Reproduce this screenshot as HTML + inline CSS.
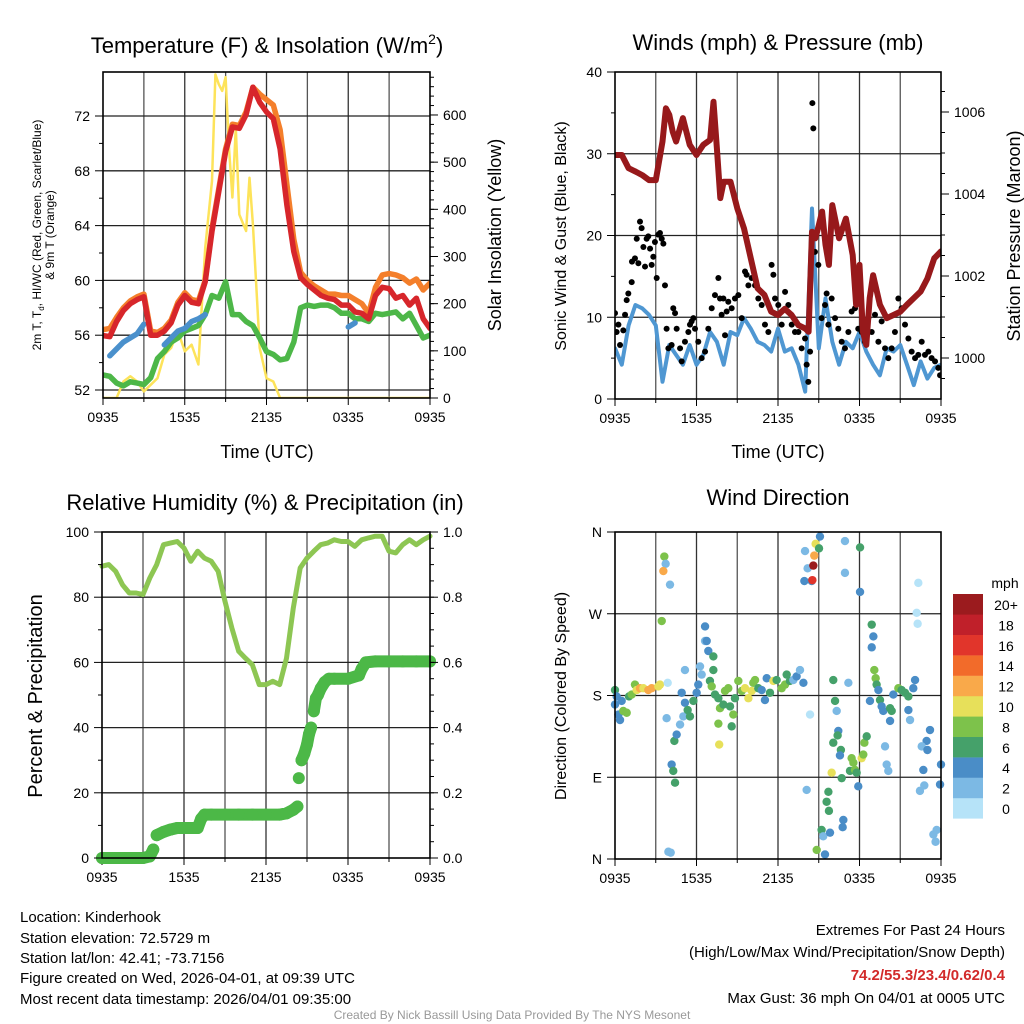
<!DOCTYPE html>
<html><head><meta charset="utf-8">
<style>
html,body{margin:0;padding:0;background:#fff;}
svg{display:block;font-family:"Liberation Sans",Arial,sans-serif;}
</style></head>
<body>
<svg id="chart" width="1024" height="1024" viewBox="0 0 1024 1024" xmlns="http://www.w3.org/2000/svg">
<rect x="0" y="0" width="1024" height="1024" fill="#fff"/>
<text x="267" y="53" font-size="22" text-anchor="middle">Temperature (F) &amp; Insolation (W/m<tspan font-size="14" dy="-9">2</tspan><tspan dy="9">)</tspan></text>
<text x="778" y="50" font-size="22" text-anchor="middle">Winds (mph) &amp; Pressure (mb)</text>
<text x="265" y="510" font-size="22" text-anchor="middle">Relative Humidity (%) &amp; Precipitation (in)</text>
<text x="778" y="505" font-size="22" text-anchor="middle">Wind Direction</text>
<text x="267" y="458" font-size="18" text-anchor="middle">Time (UTC)</text>
<text x="778" y="458" font-size="18" text-anchor="middle">Time (UTC)</text>
<text transform="translate(41,235) rotate(-90)" font-size="12" text-anchor="middle">2m T, T<tspan font-size="8" dy="3">d</tspan><tspan dy="-3">, HI/WC (Red, Green, Scarlet/Blue)</tspan></text>
<text transform="translate(54,235) rotate(-90)" font-size="12" text-anchor="middle">&amp; 9m T (Orange)</text>
<text transform="translate(501,235) rotate(-90)" font-size="18" text-anchor="middle">Solar Insolation (Yellow)</text>
<text transform="translate(566,236) rotate(-90)" font-size="16" text-anchor="middle">Sonic Wind &amp; Gust (Blue, Black)</text>
<text transform="translate(1020,236) rotate(-90)" font-size="18" text-anchor="middle">Station Pressure (Maroon)</text>
<text transform="translate(42,696) rotate(-90)" font-size="20" text-anchor="middle">Percent &amp; Precipitation</text>
<text transform="translate(566,696) rotate(-90)" font-size="16" text-anchor="middle">Direction (Colored By Speed)</text>
<g font-size="15">
<text x="20" y="922">Location: Kinderhook</text>
<text x="20" y="943">Station elevation: 72.5729 m</text>
<text x="20" y="963">Station lat/lon: 42.41; -73.7156</text>
<text x="20" y="983">Figure created on Wed, 2026-04-01, at 09:39 UTC</text>
<text x="20" y="1004">Most recent data timestamp: 2026/04/01 09:35:00</text>
</g>
<g font-size="15" text-anchor="end">
<text x="1005" y="935">Extremes For Past 24 Hours</text>
<text x="1005" y="957">(High/Low/Max Wind/Precipitation/Snow Depth)</text>
<text x="1005" y="980" fill="#d22a2a" font-weight="bold">74.2/55.3/23.4/0.62/0.4</text>
<text x="1005" y="1003">Max Gust: 36 mph On 04/01 at 0005 UTC</text>
</g>
<text x="512" y="1019" font-size="12" fill="#999" text-anchor="middle">Created By Nick Bassill Using Data Provided By The NYS Mesonet</text>
<g id="plots"></g>
</svg>
<script>
const xTickLabels = ["0935","1535","2135","0335","0935"];
const temp2m = [55.97,55.9,57.0,57.8,58.3,58.6,58.8,56.0,56.0,56.3,56.9,58.2,58.9,58.4,58.3,59.9,63.6,66.5,69.4,71.2,71.1,72.1,74.1,73.0,72.3,71.8,69.6,65.5,62.1,60.2,59.7,59.3,58.9,58.7,58.6,58.2,58.2,57.7,57.6,57.2,58.9,59.5,59.4,58.7,58.9,58.2,58.7,57.2,56.5];
const temp9m = [56.4,56.5,57.3,58.0,58.5,58.8,59.0,56.3,56.2,56.5,57.1,58.4,59.1,58.6,58.5,60.0,63.8,66.7,69.6,71.4,71.3,72.3,74.1,73.6,73.2,72.8,71.0,67.0,63.0,60.6,60.0,59.6,59.3,59.0,59.0,58.9,58.9,58.6,58.3,57.6,59.5,60.4,60.5,60.4,60.2,59.8,60.1,59.3,59.8];
const dewpoint = [53.1,53.0,52.5,52.3,52.6,52.5,52.4,52.9,54.3,54.8,55.5,55.8,56.3,56.5,56.7,57.5,58.9,58.7,59.9,57.5,57.5,57.0,56.7,55.8,54.8,54.6,54.2,54.3,55.5,58.0,58.2,58.1,58.2,58.2,58.0,57.6,57.6,57.2,57.2,57.0,57.6,57.5,57.6,57.7,57.2,57.6,56.7,55.8,56.0];
const heatIndex = [null,54.5,55.0,55.5,55.8,56.1,56.8,null,null,55.3,55.8,56.3,56.5,57.0,57.2,57.5,null,null,null,null,null,null,null,null,null,null,null,null,null,null,null,null,null,null,57.3,null,56.6,56.9,null,null,null,null,null,null,null,null,null,null,null];
const solarTimes = [0,1,1.5,2,2.5,3,3.5,4,4.5,5,5.5,6,6.5,7,7.5,8,8.25,8.5,8.75,9,9.25,9.5,9.75,10,10.5,10.75,11,11.5,12,12.5,13,24];
const solarVals = [0,0,35,46,35,14,28,42,92,106,142,99,113,71,318,460,686,665,651,680,530,425,573,389,354,467,368,106,42,35,0,0];
const windVals = [6.2,4.2,9.0,11.5,11.1,10.3,9.0,2.1,6.6,5.4,4.2,6.6,4.2,5.4,8.2,7.0,4.2,8.2,7.8,9.9,8.6,7.0,6.6,5.8,8.6,5.8,6.2,4.2,0.9,23.3,6.2,12.3,7.0,4.2,7.0,6.2,8.2,5.8,4.2,2.9,6.2,5.8,6.6,4.2,1.7,4.6,2.5,3.8,4.2];
const gustTimes = [0,0.12,0.25,0.37,0.61,0.74,0.86,0.98,1.23,1.25,1.47,1.6,1.72,1.84,1.96,2.09,2.21,2.33,2.45,2.58,2.7,2.82,2.94,3.07,3.19,3.31,3.44,3.56,3.68,3.8,3.93,4.17,4.29,4.42,4.54,4.79,4.91,5.15,5.4,5.52,5.64,5.77,5.89,6.13,6.38,6.63,6.87,7.12,7.36,7.61,7.73,7.85,7.98,8.1,8.22,8.34,8.59,8.83,9.08,9.33,9.57,9.69,9.82,10.06,10.31,10.55,10.8,11.04,11.29,11.53,11.66,11.78,12.02,12.27,12.52,12.76,13.01,13.25,13.5,13.74,13.99,14.11,14.23,14.36,14.53,14.6,14.72,14.97,15.21,15.46,15.58,15.71,15.95,16.2,16.44,16.69,16.93,17.18,17.42,17.67,17.91,18.16,18.4,18.65,18.9,19.14,19.39,19.63,19.88,20.12,20.37,20.61,20.86,21.1,21.35,21.6,21.84,22.09,22.33,22.58,22.82,23.07,23.31,23.56,23.8,23.93];
const gustVals = [10.5,8.2,9.1,6.6,8.4,10.3,12.1,12.9,14.3,16.8,17.2,19.6,16.6,21.7,20.9,18.6,16.2,19.6,19.9,18.4,16.4,17.4,19.2,14.8,20.1,20.3,19.6,19.0,13.9,8.6,6.2,6.6,11.1,10.5,8.6,6.2,4.6,7.0,8.2,9.1,9.5,9.9,8.6,7.0,5.0,5.8,8.6,11.1,12.7,14.8,12.3,10.3,12.3,7.8,10.7,11.9,11.1,12.3,12.7,9.9,15.6,15.2,13.9,14.8,13.9,12.3,11.5,9.1,8.2,16.4,15.2,12.3,11.5,9.1,13.1,11.5,9.1,8.2,8.2,6.2,7.4,4.2,2.1,5.8,36.2,33.1,18.0,16.4,9.9,11.5,12.9,9.1,12.3,9.9,8.6,7.0,6.2,8.2,10.7,11.1,8.6,8.2,7.0,9.9,8.2,10.3,7.0,9.5,6.2,5.0,6.2,8.2,12.3,11.1,9.1,7.4,5.8,5.0,5.4,7.0,5.4,5.8,5.0,4.6,3.8,2.9];
const presTimes = [0,0.5,1,1.5,2,2.5,3,3.5,3.75,4,4.25,4.5,5,5.5,6,6.5,7,7.25,7.5,7.75,8,8.5,9,9.5,10,10.5,11,11.5,12,12.5,13,13.5,14,14.25,14.5,14.75,15,15.25,15.5,15.75,16,16.5,17,17.5,17.75,18,18.25,18.5,18.75,19,19.5,20,20.5,21,21.5,22,22.5,23,23.5,24];
const presVals = [1004.95,1004.95,1004.63,1004.55,1004.46,1004.34,1004.34,1005.28,1006.09,1005.93,1005.52,1005.28,1005.85,1005.2,1004.95,1005.2,1005.32,1006.25,1005.11,1003.9,1004.3,1004.3,1003.65,1003.16,1002.43,1001.7,1001.54,1001.13,1001.05,1001.2,1001.05,1000.8,1000.72,1000.64,1003.08,1002.92,1003.24,1003.57,1002.76,1002.27,1003.73,1002.92,1003.4,1002.51,1001.3,1002.27,1000.64,1000.32,1001.46,1002.02,1001.3,1000.97,1001.05,1001.13,1001.3,1001.46,1001.62,1001.94,1002.43,1002.6];
const rhVals = [89.5,90,87.9,83.8,81.3,81.3,80.8,85.9,90,96.1,96.6,97.1,95.1,91,94.1,92,91,87.9,78.7,70.6,63.4,61.3,59.3,53.2,53.2,54.2,53.2,61.3,76.7,89,92,94.1,96.1,96.6,97.6,97.1,97.1,95.6,97.6,98.2,98.7,98.7,94.1,93.6,96.1,97.6,96.1,97.6,98.7];
const precipTimes = [0,0.5,1,1.5,2,2.5,3,3.5,3.75,4,4.5,5,5.5,6,6.5,7,7.25,7.5,8,9,10,11,12,13,13.5,14,14.3,14.4,14.6,14.8,15,15.15,15.3,15.5,15.65,15.8,16,16.3,16.6,17,18,18.8,19,19.3,20,21,22,23,24];
const precipVals = [0,0,0,0,0,0,0,0.005,0.026,0.07,0.08,0.087,0.092,0.092,0.092,0.092,0.12,0.133,0.133,0.133,0.133,0.133,0.133,0.133,0.137,0.148,0.158,0.245,0.30,0.32,0.348,0.38,0.40,0.45,0.49,0.50,0.52,0.54,0.55,0.55,0.55,0.56,0.58,0.60,0.603,0.603,0.603,0.603,0.603];
const dirTimes = [0,0.12,0,0.25,0.37,0.49,0.61,0.86,1.03,1.23,1.47,1.6,1.84,2.09,2.45,2.7,3.19,3.31,3.63,3.73,3.56,4.05,3.44,3.88,3.8,3.93,4.1,4.17,4.29,4.42,4.37,4.54,4.79,4.91,5.03,5.15,5.15,5.35,5.52,5.77,6.01,6.13,6.26,6.38,6.63,6.63,6.75,6.87,6.99,7.12,7.24,7.24,7.36,7.61,7.73,7.61,7.67,7.98,8.1,8.34,8.47,8.59,8.71,8.83,9.08,9.33,9.57,9.82,10.06,10.18,10.31,10.55,10.8,11.04,11.17,11.41,11.66,11.9,12.27,12.52,12.64,12.88,13.13,13.37,13.62,13.87,14.36,14.11,13.99,13.94,14.18,14.48,14.53,14.6,14.67,14.77,15.09,15.02,15.95,15.71,15.58,15.75,15.21,15.33,15.83,14.85,15.46,16.07,16.2,16.32,16.44,16.39,16.07,16.63,16.56,16.69,16.81,16.76,16.93,16.93,17.18,17.3,17.42,17.55,17.67,17.79,17.91,18.04,18.04,18.16,18.28,18.36,18.53,18.77,18.9,19.02,18.9,19.09,19.19,19.26,19.39,19.51,19.63,19.75,19.88,20,20.12,20.25,20.37,20.25,20.49,20.86,21.1,21.35,21.6,21.96,22.09,21.6,21.72,22.33,22.21,22.28,23.19,22.94,22.58,23.0,22.7,22.45,22.77,23.93,24,23.44,23.6,23.68];
const dirDeg = [186,179,170,159,153,174,163,161,179,181,192,186,188,188,186,188,190,192,333,325,317,302,262,194,155,8,7,104,97,84,130,137,148,183,157,172,208,164,157,174,183,192,212,203,256,240,240,229,196,190,223,208,181,177,166,149,126,170,185,188,168,146,159,177,196,185,188,177,185,194,197,188,186,175,199,183,196,197,188,192,203,196,197,201,208,194,159,76,339,306,320,306,307,323,334,347,355,342,95,74,63,53,32,25,29,10,5,197,174,163,141,136,128,120,114,89,43,35,350,315,194,97,111,106,98,95,80,343,294,111,115,128,135,174,258,245,233,208,199,192,186,175,168,163,124,104,97,166,163,152,181,188,186,183,179,188,197,164,153,304,271,259,142,130,124,120,98,75,81,82,104,27,19,32];
const dirSpeed = [7,5,5,5,5,5,8,8,7,9,9,11,13,11,13,13,11,11,9,3,13,3,9,1,3,3,3,5,7,7,7,5,3,5,3,5,3,7,7,7,5,5,3,3,5,3,5,5,7,9,7,7,7,7,9,9,11,7,9,9,7,7,9,7,9,9,11,11,11,9,9,7,5,5,5,7,11,7,9,9,7,7,3,5,3,5,1,3,3,5,3,5,17,20,13,11,5,7,11,7,7,7,7,3,5,9,5,7,7,3,5,7,7,7,5,7,5,5,3,3,3,7,9,9,9,7,5,7,5,11,9,9,7,5,7,5,5,9,9,7,5,7,5,5,3,3,3,7,7,5,5,9,7,7,7,5,5,5,3,1,1,1,5,5,3,5,5,3,3,5,5,3,3,3];
const speedBinLabels = ["0","2","4","6","8","10","12","14","16","18","20+"];
const speedColors = ["#b6e3f8","#7cb9e4","#4a8dc7","#45a16a","#7dc24b","#e7e05a","#f9a94a","#f26b2a","#e1352b","#c0202a","#9b1b1e"];
const tempTicks = [52,56,60,64,68,72];
const solarTicks = [0,100,200,300,400,500,600];
const windTicks = [0,10,20,30,40];
const presTicks = [1000,1002,1004,1006];
const rhTicks = [0,20,40,60,80,100];
const precipTicks = [0.0,0.2,0.4,0.6,0.8,1.0];
const dirTicks = [0,90,180,270,360];
const dirTickLabels = ["N","E","S","W","N"];

const NS = "http://www.w3.org/2000/svg";
const root = document.getElementById("plots");
function mk(tag, attrs, parent){
  const e = document.createElementNS(NS, tag);
  for (const k in attrs) e.setAttribute(k, attrs[k]);
  (parent || root).appendChild(e);
  return e;
}
function panel(x0,x1,y0,y1){ return {x0,x1,y0,y1, x:(t)=>x0+t/24*(x1-x0)}; }
const P1 = panel(103,430,72,398), P2 = panel(615,941,72,399), P3 = panel(102,430,532,858), P4 = panel(615,941,532,859);
const yTemp = v => 390 - (v-52)*13.7;
const ySolar = v => 398 - v*0.4717;
const yWind = v => 399 - v*8.175;
const yPres = v => 358 - (v-1000)*41;
const yRH = v => 858 - v*3.26;
const yPrecip = v => 858 - v*326;
const yDir = v => 859 - v/360*327;

function clip(id,P){
  const c = mk("clipPath",{id:id});
  
  
  const r = mk("rect",{x:P.x0,y:P.y0,width:P.x1-P.x0,height:P.y1-P.y0},c);
  
  
}
function frame(P, yTicksPos, name){
  const g = mk("g",{});
  
  
  for (let h=3; h<24; h+=3){
    const x = P.x(h);
    const l = mk("line",{x1:x,x2:x,y1:P.y0,y2:P.y1,stroke:(h%6===0?"#333":"#555"),"stroke-width":1.3},g);
    
    
  }
  yTicksPos.forEach(y=>{
    const l = mk("line",{x1:P.x0,x2:P.x1,y1:y,y2:y,stroke:"#222","stroke-width":1.3},g);
    
    
  });
  for (let h=0; h<=24; h+=3){
    const x = P.x(h);
    const l = mk("line",{x1:x,x2:x,y1:P.y1,y2:P.y1+(h%6===0?7:4),stroke:"#000","stroke-width":1},g);
    
    
  }
  xTickLabels.forEach((lab,i)=>{
    const t = mk("text",{x:P.x(i*6),y:P.y1+24,"font-size":14,"text-anchor":"middle"},g);
    t.textContent = lab;
    
    
  });
}
function border(P,name){
  const r = mk("rect",{x:P.x0,y:P.y0,width:P.x1-P.x0,height:P.y1-P.y0,fill:"none",stroke:"#000","stroke-width":1.6});
  
  
}
function leftAxis(P, ticks, labels, yf, minorVals, name){
  ticks.forEach((v,i)=>{
    const y = yf(v);
    const l = mk("line",{x1:P.x0-8,x2:P.x0,y1:y,y2:y,stroke:"#000","stroke-width":1});
    
    
    const t = mk("text",{x:P.x0-13,y:y+5,"font-size":14,"text-anchor":"end"});
    t.textContent = labels[i];
    
    
  });
  minorVals.forEach(v=>{
    const y = yf(v);
    const l = mk("line",{x1:P.x0-4,x2:P.x0,y1:y,y2:y,stroke:"#000","stroke-width":1});
    
    
  });
}
function rightAxis(P, ticks, labels, yf, minorVals, name){
  ticks.forEach((v,i)=>{
    const y = yf(v);
    const l = mk("line",{x1:P.x1,x2:P.x1+8,y1:y,y2:y,stroke:"#000","stroke-width":1});
    
    
    const t = mk("text",{x:P.x1+13,y:y+5,"font-size":14,"text-anchor":"start"});
    t.textContent = labels[i];
    
    
  });
  minorVals.forEach(v=>{
    const y = yf(v);
    const l = mk("line",{x1:P.x1,x2:P.x1+4,y1:y,y2:y,stroke:"#000","stroke-width":1});
    
    
  });
}
function range(a,b,s){ const r=[]; for(let v=a; v<=b+1e-9; v+=s) r.push(+v.toFixed(4)); return r; }
function pathFrom(times, vals, P, yf){
  let d = "", pen = false;
  vals.forEach((v,i)=>{
    if (v === null){ pen = false; return; }
    d += (pen ? "L" : "M") + P.x(times[i]).toFixed(1) + "," + yf(v).toFixed(1);
    pen = true;
  });
  return d;
}
const halfTimes = temp2m.map((_,i)=>i*0.5);

// Panel 1
clip("clip-p1",P1);
frame(P1, tempTicks.map(yTemp), "temperature");
const g1 = mk("g",{"clip-path":"url(#clip-p1)",fill:"none","stroke-linejoin":"round","stroke-linecap":"round"});


let p;
p = mk("path",{d:pathFrom(solarTimes,solarVals,P1,ySolar),stroke:"#fde35a","stroke-width":2.5},g1);


p = mk("path",{d:pathFrom(halfTimes,dewpoint,P1,yTemp),stroke:"#4db748","stroke-width":5.5},g1);


p = mk("path",{d:pathFrom(halfTimes,heatIndex,P1,yTemp),stroke:"#4a90cc","stroke-width":5.5},g1);


p = mk("path",{d:pathFrom(halfTimes,temp9m,P1,yTemp),stroke:"#f47f2b","stroke-width":5.5},g1);


p = mk("path",{d:pathFrom(halfTimes,temp2m,P1,yTemp),stroke:"#d7262b","stroke-width":5.5},g1);


border(P1,"temperature");
leftAxis(P1, tempTicks, tempTicks.map(String), yTemp, range(54,70,4), "temperature-y");
rightAxis(P1, solarTicks, solarTicks.map(String), ySolar, range(0,680,20), "solar-y");

// Panel 2
clip("clip-p2",P2);
frame(P2, windTicks.slice(1,4).map(yWind), "winds");
const g2 = mk("g",{"clip-path":"url(#clip-p2)",fill:"none","stroke-linejoin":"round","stroke-linecap":"round"});


p = mk("path",{d:pathFrom(halfTimes,windVals,P2,yWind),stroke:"#4f97d2","stroke-width":4},g2);


gustVals.forEach((v,i)=>{
  const c = mk("circle",{cx:P2.x(gustTimes[i]),cy:yWind(v),r:3,fill:"#000"},g2);
  
  
});
p = mk("path",{d:pathFrom(presTimes,presVals,P2,yPres),stroke:"#97191b","stroke-width":6},g2);


border(P2,"winds");
leftAxis(P2, windTicks, windTicks.map(String), yWind, range(5,35,10), "wind-y");
rightAxis(P2, presTicks, presTicks.map(String), yPres, range(999.5,1006.5,0.5), "pressure-y");

// Panel 3
clip("clip-p3",P3);
frame(P3, rhTicks.slice(1,5).map(yRH), "humidity");
const g3 = mk("g",{fill:"none","stroke-linejoin":"round","stroke-linecap":"round"});


p = mk("path",{d:pathFrom(halfTimes,rhVals,P3,yRH),stroke:"#8dc653","stroke-width":5},g3);


let pd = "";
precipVals.forEach((v,i)=>{
  if (i>0 && Math.abs(v-precipVals[i-1])<0.04) pd += "M"+P3.x(precipTimes[i-1]).toFixed(1)+","+yPrecip(precipVals[i-1]).toFixed(1)+"L"+P3.x(precipTimes[i]).toFixed(1)+","+yPrecip(v).toFixed(1);
});
p = mk("path",{d:pd,stroke:"#4cb847","stroke-width":12},g3);


precipVals.forEach((v,i)=>{
  const c = mk("circle",{cx:P3.x(precipTimes[i]),cy:yPrecip(v),r:6,fill:"#4cb847"},g3);
  
  
});
border(P3,"humidity");
leftAxis(P3, rhTicks, rhTicks.map(String), yRH, range(10,90,20), "humidity-y");
rightAxis(P3, precipTicks, precipTicks.map(v=>v.toFixed(1)), yPrecip, range(0,1,0.05), "precip-y");

// Panel 4
clip("clip-p4",P4);
frame(P4, dirTicks.slice(1,4).map(yDir), "direction");
const g4 = mk("g",{});


dirDeg.forEach((v,i)=>{
  const bin = Math.min(10, Math.floor(dirSpeed[i]/2));
  const c = mk("circle",{cx:P4.x(dirTimes[i]),cy:yDir(v),r:4.2,fill:speedColors[bin]},g4);
  
  
});
border(P4,"direction");
leftAxis(P4, dirTicks, dirTickLabels, yDir, [], "direction-y");
const cb = mk("g",{});


const cbTitle = mk("text",{x:1005,y:588,"font-size":14,"text-anchor":"middle"},cb);
cbTitle.textContent = "mph";


speedColors.forEach((col,i)=>{
  const k = speedColors.length-1-i;
  const y = 594 + k*20.4;
  const r = mk("rect",{x:953,y:y,width:30,height:20.6,fill:col},cb);
  
  
  const t = mk("text",{x:1006,y:y+16,"font-size":14,"text-anchor":"middle"},cb);
  t.textContent = speedBinLabels[i];
  
  
});
</script>
</body></html>
